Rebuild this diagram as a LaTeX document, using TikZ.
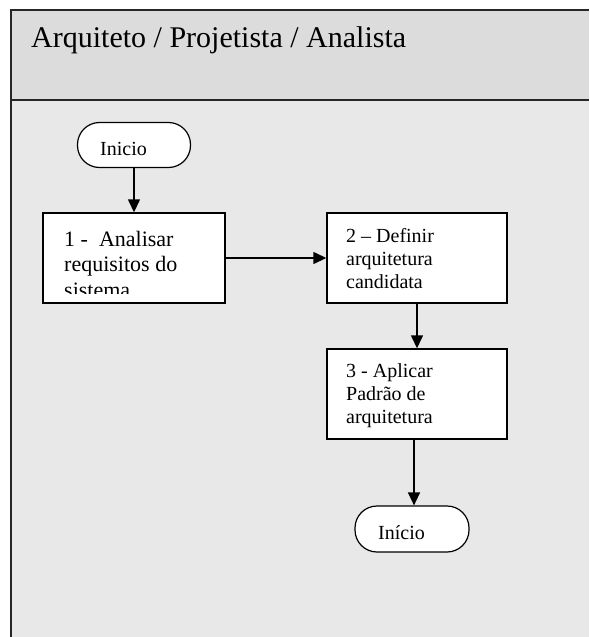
\documentclass[tikz,border=0pt]{standalone}
\usepackage{fontspec}
\setmainfont{Liberation Serif}
\usetikzlibrary{arrows.meta}
\definecolor{headgray}{RGB}{220,220,220}
\definecolor{lanegray}{RGB}{232,232,232}
\tikzset{
  laneline/.style={line width=1.8pt, draw=black!85},
  stepbox/.style={draw, fill=white, line width=1.4pt, rectangle, inner sep=0pt},
  terminal/.style={draw, fill=white, line width=1.2pt, rectangle, rounded corners=22pt, inner sep=0pt},
  steptext/.style={font=\fontsize{20}{23}\selectfont, align=left, anchor=north west, inner sep=0pt},
  flow/.style={line width=1.4pt, -{Triangle[length=13pt,width=12pt]}},
}
\begin{document}
\begin{tikzpicture}[x=1pt,y=-1pt]
  \useasboundingbox (0,0) rectangle (589,637);
  \fill[white] (0,0) rectangle (589,637);
  % swimlane: header band and body
  \fill[headgray] (11,10) rectangle (589,100);
  \fill[lanegray] (11,100) rectangle (589,637);
  \draw[laneline] (589,10) -- (11,10) -- (11,637);
  \draw[laneline] (11,100) -- (589,100);
  \node[anchor=base west, inner sep=0pt, font=\fontsize{30}{35}\selectfont] (title) at (31,47) {Arquiteto / Projetista / Analista};

  % start terminal
  \node[terminal, minimum width=113pt, minimum height=45pt] (start) at (134,145) {};
  \node[anchor=base west, inner sep=0pt, font=\fontsize{20}{23}\selectfont] (starttext) at (100,155) {Inicio};

  % step 1 (last line cut off by the box)
  \node[stepbox, minimum width=182pt, minimum height=90pt] (s1) at (134,258) {};
  \begin{scope}
    \clip (44,214) rectangle (224,293);
    \node[steptext, font=\fontsize{22}{25.5}\selectfont] (s1text) at (64,231) {1 -\ \ Analisar\\requisitos do\\sistema};
  \end{scope}

  % step 2
  \node[stepbox, minimum width=180pt, minimum height=90pt] (s2) at (417,258) {};
  \node[steptext] (s2text) at (346,228) {2 -- Definir\\arquitetura\\candidata};

  % step 3
  \node[stepbox, minimum width=180pt, minimum height=90pt] (s3) at (417,394) {};
  \node[steptext] (s3text) at (346,363) {3 - Aplicar\\Padrão de\\arquitetura};

  % end terminal
  \node[terminal, minimum width=114pt, minimum height=46pt] (stop) at (412,529) {};
  \node[anchor=base west, inner sep=0pt, font=\fontsize{20}{23}\selectfont] (stoptext) at (378,539) {Início};

  % connectors
  \draw[flow] (start.south) -- (s1.north);
  \draw[flow] (s1.east) -- (s2.west);
  \draw[flow] (s2.south) -- (s3.north);
  \draw[flow] (s3.south -| 414,0) -- (stop.north -| 414,0);
\end{tikzpicture}
\end{document}
